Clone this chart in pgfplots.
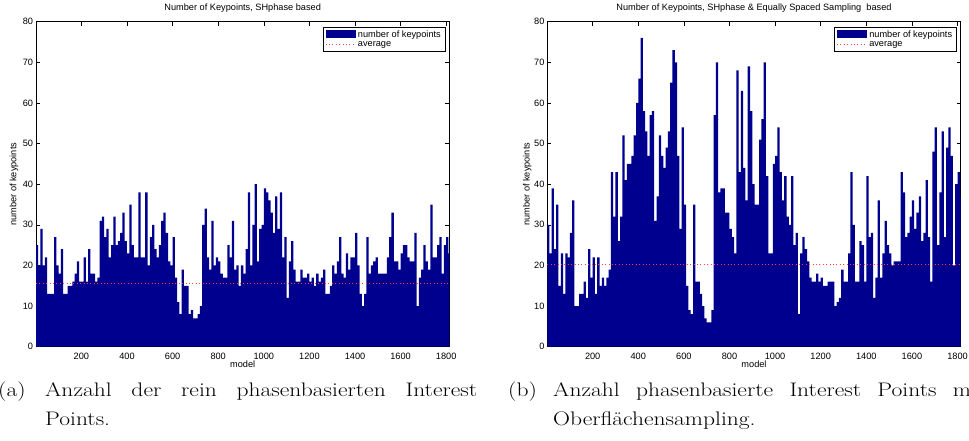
\documentclass[border=0pt]{standalone}
\usepackage{fontspec}
\usepackage{graphicx}
\usepackage{pgfplots}
\usepackage{pgfplotstable}
\pgfplotsset{compat=1.18}
\newfontfamily\arial{Liberation Sans}
\definecolor{barblue}{RGB}{0,0,143}
\newcommand{\axfont}{\arial\fontsize{9.2bp}{10bp}\selectfont}
\newcommand{\capline}[1]{\scalebox{1.2}[1]{\makebox[360bp][s]{#1}}}
\newcommand{\capword}[1]{\scalebox{1.2}[1]{#1}}

\pgfplotstableread{
m n
0 25
10 20
20 29
30 20
40 22
50 13
60 13
70 13
80 27
90 20
100 18
110 24
120 13
130 13
140 15
150 15
160 16
170 18
180 21
190 16
200 16
210 22
220 16
230 24
240 18
250 18
260 16
270 17
280 31
290 32
300 27
310 29
320 22
330 25
340 32
350 25
360 26
370 28
380 33
390 26
400 23
410 35
420 25
430 22
440 22
450 38
460 22
470 22
480 38
490 20
500 27
510 30
520 24
530 22
540 25
550 31
560 33
570 28
580 21
590 20
600 27
610 17
620 11
630 8
640 19
650 15
660 15
670 8
680 9
690 7
700 7
710 8
720 10
730 30
740 34
750 22
760 19
770 31
780 20
790 22
800 21
810 18
820 17
830 17
840 25
850 22
860 31
870 19
880 20
890 15
900 20
910 18
920 24
930 38
940 20
950 30
960 40
970 21
980 29
990 30
1000 39
1010 38
1020 36
1030 33
1040 28
1050 37
1060 29
1070 38
1080 22
1090 27
1100 12
1110 21
1120 26
1130 19
1140 16
1150 16
1160 19
1170 17
1180 17
1190 18
1200 16
1210 17
1220 15
1230 18
1240 16
1250 17
1260 19
1270 13
1280 13
1290 15
1300 20
1310 18
1320 21
1330 27
1340 18
1350 17
1360 23
1370 19
1380 22
1390 22
1400 28
1410 20
1420 13
1430 10
1440 13
1450 27
1460 18
1470 20
1480 21
1490 22
1500 18
1510 18
1520 18
1530 18
1540 22
1550 27
1560 33
1570 21
1580 21
1590 19
1600 23
1610 25
1620 25
1630 22
1640 21
1650 21
1660 28
1670 10
1680 17
1690 19
1700 25
1710 21
1720 19
1730 35
1740 22
1750 22
1760 25
1770 27
1780 18
1790 25
1800 27
1810 23
1814 23
}\leftdata

\pgfplotstableread{
m n
0 30
10 23
20 39
30 24
40 35
50 15
60 23
70 13
80 23
90 22
100 28
110 36
120 10
130 10
140 13
150 13
160 16
170 12
180 24
190 17
200 22
210 13
220 22
230 15
240 17
250 15
260 17
270 19
280 43
290 32
300 43
310 26
320 32
330 52
340 41
350 45
360 45
370 47
380 52
390 60
400 66
410 76
420 58
430 53
440 47
450 57
460 58
470 31
480 37
490 52
500 47
510 44
520 49
530 53
540 65
550 73
560 70
570 47
580 29
590 54
600 35
610 15
620 9
630 8
640 35
650 16
660 16
670 13
680 10
690 7
700 6
710 6
720 9
730 57
740 70
750 38
760 39
770 39
780 33
790 33
800 29
810 27
820 23
830 68
840 43
850 63
860 44
870 36
880 69
890 58
900 40
910 35
920 35
930 51
940 56
950 70
960 42
970 23
980 23
990 45
1000 47
1010 54
1020 43
1030 36
1040 42
1050 32
1060 30
1070 42
1080 25
1090 28
1100 8
1110 23
1120 27
1130 24
1140 21
1150 17
1160 16
1170 16
1180 18
1190 16
1200 17
1210 15
1220 15
1230 16
1240 16
1250 16
1260 10
1270 11
1280 12
1290 19
1300 16
1310 16
1320 23
1330 43
1340 30
1350 16
1360 16
1370 26
1380 25
1390 16
1400 42
1410 27
1420 28
1430 12
1440 17
1450 36
1460 17
1470 23
1480 31
1490 25
1500 23
1510 20
1520 21
1530 21
1540 21
1550 43
1560 38
1570 27
1580 28
1590 32
1600 36
1610 29
1620 33
1630 37
1640 26
1650 28
1660 41
1670 27
1680 16
1690 48
1700 54
1710 25
1720 38
1730 53
1740 27
1750 49
1760 54
1770 47
1780 20
1790 40
1800 43
1810 37
1814 37
}\rightdata

\pgfplotsset{
  kpaxis/.style={
    scale only axis, width=413.4bp, height=325bp,
    anchor=south west,
    xmin=1, xmax=1814, ymin=0, ymax=80,
    xtick={200,400,...,1800}, ytick={0,10,...,80},
    tick align=inside, major tick length=4bp,
    axis line style={line width=0.7bp},
    every tick/.style={black, line width=0.5bp},
    /pgf/number format/assume math mode=true,
    /pgf/number format/1000 sep={},
    ticklabel style={font=\axfont},
    xticklabel style={anchor=base, yshift=-12.8bp, inner sep=0pt},
    yticklabel style={inner sep=0pt, xshift=-2.7bp},
    title style={at={(axis description cs:0.5,1)}, anchor=base, yshift=5.7bp, inner sep=0pt, font=\axfont},
    xlabel style={at={(axis description cs:0.5,0)}, anchor=base, yshift=-21.3bp, inner sep=0pt, font=\axfont},
    xlabel={model}, ylabel={number of keypoints},
    legend style={at={(axis description cs:1,1)}, anchor=north east, xshift=-4.3bp, yshift=-5bp,
      draw=black, line width=0.6bp, font=\axfont, inner xsep=2bp, inner ysep=1.5bp,
      row sep=-1.5bp, cells={anchor=west}},
    legend cell align=left,
  },
  barstyle/.style={fill=barblue, draw=none, const plot mark left,
    legend image code/.code={\fill[barblue] (0bp,-3.8bp) rectangle (30bp,4.2bp);}},
  avgstyle/.style={red!75!white, line width=0.6bp, dash pattern=on 0.8bp off 2.6bp,
    legend image code/.code={\draw[red!75!white, line width=0.6bp, dash pattern=on 0.8bp off 2.6bp] (0bp,0bp) -- (30bp,0bp);}},
}

\begin{document}
\begin{tikzpicture}
\path[use as bounding box] (0,0) rectangle (969bp,441bp);

\begin{axis}[kpaxis, at={(36bp,94.3bp)},
  title={Number of Keypoints, SHphase based},
  ylabel style={at={(axis description cs:-0.0532,0.5)}, anchor=center, inner sep=0pt, font=\axfont}]
\addplot[barstyle] table[x=m,y=n] {\leftdata} \closedcycle;
\addlegendentry{number of keypoints}
\addplot[avgstyle] coordinates {(1,15.7) (1814,15.7)};
\addlegendentry{average}
\end{axis}

\begin{axis}[kpaxis, at={(547.3bp,94.3bp)},
  title={Number of Keypoints, SHphase \& Equally Spaced Sampling\ \ based},
  ylabel style={at={(axis description cs:-0.0484,0.5)}, anchor=center, inner sep=0pt, font=\axfont}]
\addplot[barstyle] table[x=m,y=n] {\rightdata} \closedcycle;
\addlegendentry{number of keypoints}
\addplot[avgstyle] coordinates {(1,20.2) (1814,20.2)};
\addlegendentry{average}
\end{axis}

\begin{scope}[every node/.style={inner sep=0pt, anchor=base west, font=\fontsize{19.6bp}{24bp}\selectfont}]
\node at (-2bp,44.3bp) {\capword{(a)}};
\node at (45bp,44.3bp) {\capline{Anzahl der rein phasenbasierten Interest}};
\node at (45bp,16bp) {\capword{Points.}};
\node at (508bp,44.3bp) {\capword{(b)}};
\node at (553bp,44.3bp) {\capline{Anzahl phasenbasierte Interest Points mit}};
\node at (553bp,16bp) {\capword{Oberflächensampling.}};
\end{scope}
\end{tikzpicture}
\end{document}
